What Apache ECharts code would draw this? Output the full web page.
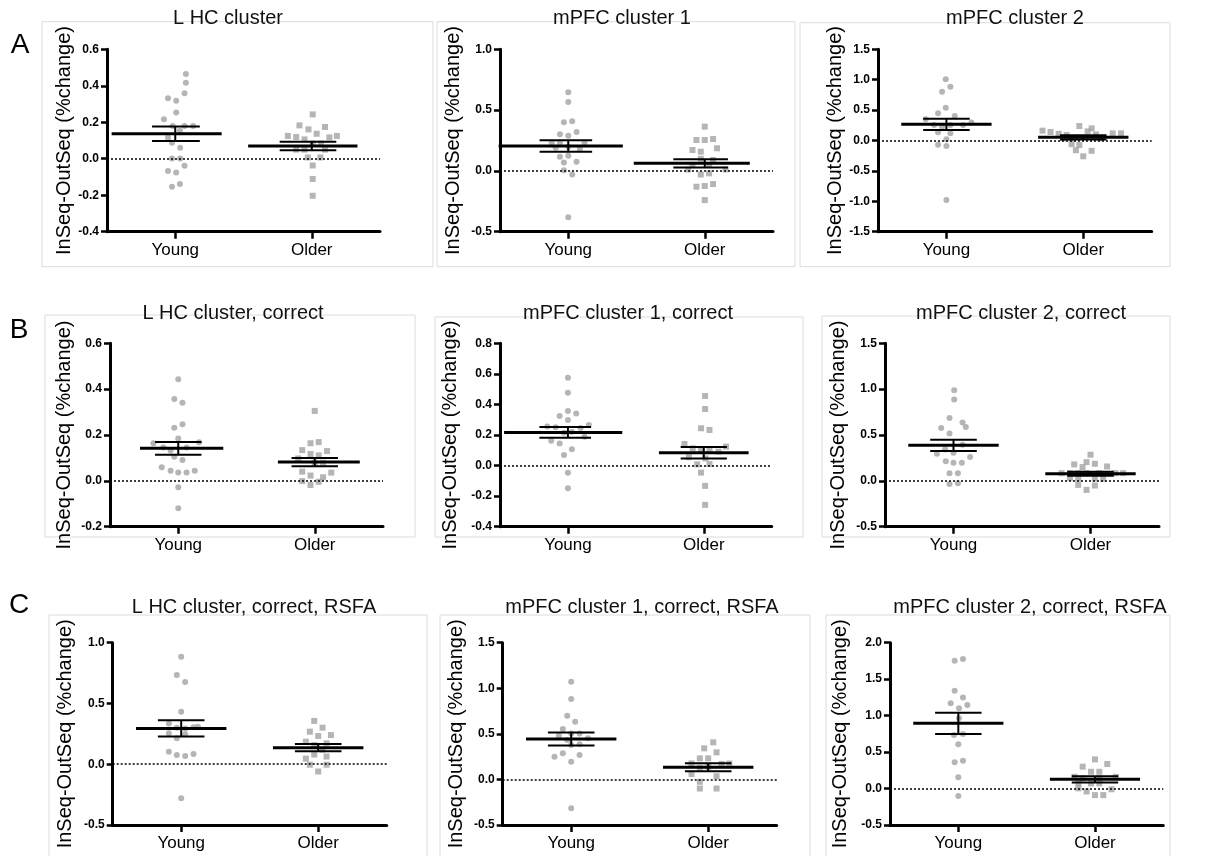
<!DOCTYPE html>
<html><head><meta charset="utf-8">
<script src="https://cdn.jsdelivr.net/npm/echarts@6/dist/echarts.min.js"></script>
<style>html,body{margin:0;padding:0;background:#fff}#c{width:1211px;height:856px}</style>
</head><body><div id="c"></div><script>
// ---------- DATA ----------
const categories = ['Young', 'Older'];
const panelTitles = ['L HC cluster', 'mPFC cluster 1', 'mPFC cluster 2',
  'L HC cluster, correct', 'mPFC cluster 1, correct', 'mPFC cluster 2, correct',
  'L HC cluster, correct, RSFA', 'mPFC cluster 1, correct, RSFA', 'mPFC cluster 2, correct, RSFA'];
const rowLetters = ['A', 'B', 'C'];
const yAxisName = 'InSeq-OutSeq (%change)';
const yMins = [-0.4, -0.5, -1.5, -0.2, -0.4, -0.5, -0.5, -0.5, -0.5];
const yMaxs = [0.6, 1.0, 1.5, 0.6, 0.8, 1.5, 1.0, 1.5, 2.0];
const ySteps = [0.2, 0.5, 0.5, 0.2, 0.2, 0.5, 0.5, 0.5, 0.5];
// group means and SEMs [Young, Older]
const groupMeans = [[0.137,0.070],[0.205,0.062],[0.266,0.052],[0.142,0.082],[0.217,0.084],[0.387,0.077],[0.295,0.136],[0.443,0.133],[0.894,0.126]];
const groupSems  = [[0.040,0.023],[0.048,0.034],[0.093,0.035],[0.028,0.018],[0.035,0.037],[0.062,0.022],[0.067,0.030],[0.072,0.044],[0.146,0.042]];

// individual points: [x (1=Young, 2=Older, with spread), value]
const aLhcYoung = [[1.078,0.465],[1.078,0.417],[1.068,0.359],[0.947,0.331],[1.007,0.318],[1.007,0.253],[0.917,0.216],[0.981,0.180],[1.068,0.180],[1.131,0.180],[1.034,0.154],[0.947,0.115],[0.976,0.087],[1.036,0.060],[0.976,0.002],[1.036,0.002],[1.068,-0.038],[0.947,-0.067],[1.007,-0.075],[1.034,-0.139],[0.976,-0.153]];
const aLhcOlder = [[2.007,0.243],[1.910,0.183],[1.976,0.161],[2.097,0.174],[1.825,0.125],[1.886,0.119],[1.947,0.106],[2.036,0.137],[2.129,0.117],[2.184,0.125],[2.007,0.084],[2.068,0.084],[1.886,0.050],[1.947,0.050],[2.097,0.050],[1.971,0.007],[2.063,0.007],[2.007,-0.037],[2.007,-0.111],[2.007,-0.203]];
const aMpfc1Young = [[1.0,0.646],[1.0,0.567],[0.968,0.400],[1.029,0.408],[0.939,0.301],[1.0,0.290],[1.061,0.320],[0.879,0.232],[0.939,0.232],[1.119,0.232],[0.908,0.191],[1.0,0.199],[1.085,0.180],[0.939,0.117],[1.0,0.125],[0.968,0.070],[1.061,0.076],[0.968,0.006],[1.029,-0.030],[1.0,-0.382]];
const aMpfc1Older = [[2.0,0.364],[1.939,0.254],[2.0,0.254],[2.061,0.262],[1.910,0.172],[1.971,0.158],[2.090,0.186],[1.971,0.100],[2.061,0.090],[1.910,0.050],[2.032,0.050],[1.879,0.012],[2.153,0.012],[1.971,-0.030],[2.032,-0.020],[1.939,-0.130],[2.0,-0.124],[2.061,-0.108],[2.0,-0.240]];
const aMpfc2Young = [[0.995,1.006],[0.968,0.803],[1.029,0.886],[0.995,0.540],[0.939,0.447],[1.061,0.403],[0.849,0.348],[1.183,0.297],[0.910,0.255],[0.968,0.227],[1.029,0.255],[1.122,0.255],[0.939,0.134],[1.029,0.118],[1.0,0.020],[0.939,-0.070],[1.0,-0.090],[1.0,-0.980]];
const aMpfc2Older = [[1.702,0.162],[1.761,0.140],[1.820,0.110],[1.878,0.090],[1.971,0.238],[2.061,0.200],[2.032,0.150],[2.093,0.100],[2.215,0.118],[2.276,0.118],[1.854,0.035],[1.915,0.035],[2.122,0.035],[1.915,-0.060],[1.971,-0.075],[1.946,-0.160],[2.061,-0.170],[2.0,-0.260]];
const bLhcYoung = [[1.0,0.443],[0.971,0.357],[1.031,0.341],[0.971,0.232],[1.031,0.247],[1.0,0.185],[0.818,0.164],[0.891,0.146],[0.944,0.132],[1.061,0.146],[1.153,0.168],[0.971,0.105],[1.031,0.091],[0.879,0.059],[0.944,0.044],[1.0,0.036],[1.061,0.036],[1.121,0.044],[1.0,-0.028],[1.0,-0.120]];
const bLhcOlder = [[2.0,0.305],[1.969,0.164],[2.029,0.169],[1.908,0.134],[1.969,0.117],[2.029,0.111],[2.090,0.130],[1.879,0.098],[2.0,0.079],[2.061,0.079],[1.908,0.040],[1.969,0.023],[2.061,0.016],[2.121,0.036],[1.908,-0.001],[2.029,-0.004],[1.969,-0.018]];
const bMpfc1Young = [[1.0,0.575],[1.0,0.477],[1.0,0.357],[0.939,0.324],[1.061,0.340],[1.0,0.298],[0.848,0.255],[0.909,0.250],[1.093,0.245],[1.154,0.265],[0.971,0.215],[1.029,0.222],[1.123,0.189],[0.877,0.163],[0.939,0.145],[1.029,0.106],[0.971,0.069],[1.0,-0.047],[1.0,-0.149]];
const bMpfc1Older = [[2.010,0.455],[2.010,0.370],[1.980,0.244],[2.042,0.233],[1.858,0.141],[1.919,0.113],[1.980,0.097],[2.042,0.106],[2.108,0.091],[2.164,0.124],[1.890,0.055],[2.012,0.047],[1.951,0.008],[2.042,0.010],[1.980,-0.046],[2.010,-0.133],[2.010,-0.257]];
const bMpfc2Young = [[1.005,0.989],[1.005,0.887],[0.971,0.686],[1.066,0.635],[0.910,0.577],[1.090,0.588],[0.971,0.515],[1.066,0.394],[0.879,0.296],[0.939,0.343],[1.0,0.307],[0.944,0.215],[1.0,0.197],[1.061,0.197],[1.121,0.259],[0.971,0.084],[1.032,0.084],[0.971,-0.033],[1.032,-0.026]];
const bMpfc2Older = [[2.0,0.285],[1.881,0.179],[1.942,0.150],[1.971,0.204],[2.032,0.186],[2.121,0.157],[1.789,0.084],[1.850,0.084],[1.910,0.084],[1.971,0.084],[2.063,0.084],[2.182,0.084],[2.238,0.084],[1.850,0.033],[1.910,0.025],[2.032,0.025],[2.092,0.020],[1.910,-0.044],[2.032,-0.051],[1.971,-0.099]];
const cLhcYoung = [[1.0,0.885],[0.968,0.734],[1.029,0.676],[1.0,0.432],[0.910,0.336],[0.968,0.300],[1.029,0.295],[1.090,0.304],[0.910,0.254],[0.968,0.213],[1.029,0.246],[1.122,0.309],[0.910,0.103],[0.968,0.076],[1.029,0.068],[1.090,0.084],[1.0,-0.280]];
const cLhcOlder = [[1.971,0.356],[2.032,0.301],[1.939,0.268],[2.0,0.232],[2.093,0.240],[1.910,0.186],[1.971,0.158],[2.061,0.172],[2.032,0.120],[1.910,0.046],[1.971,0.080],[2.061,0.063],[1.939,-0.004],[2.061,-0.004],[2.0,-0.060]];
const cMpfc1Young = [[1.0,1.072],[1.0,0.882],[0.971,0.699],[1.029,0.633],[0.939,0.553],[1.0,0.505],[0.910,0.480],[1.061,0.505],[0.971,0.432],[1.122,0.451],[1.061,0.385],[1.0,0.378],[0.878,0.250],[0.939,0.286],[1.061,0.268],[1.0,0.195],[1.0,-0.317]];
const cMpfc1Older = [[2.037,0.407],[1.971,0.341],[2.061,0.297],[1.939,0.231],[2.0,0.231],[1.878,0.176],[2.154,0.174],[2.098,0.170],[1.939,0.128],[2.0,0.139],[1.878,0.059],[2.061,0.035],[1.939,-0.026],[1.939,-0.100],[2.061,-0.100]];
const cMpfc2Young = [[0.973,1.753],[1.034,1.776],[0.973,1.342],[1.034,1.250],[0.944,1.168],[1.005,1.100],[1.066,1.145],[1.005,0.963],[0.968,0.734],[1.034,0.748],[1.0,0.606],[0.973,0.359],[1.034,0.382],[1.0,0.154],[1.0,-0.102]];
const cMpfc2Older = [[2.0,0.400],[1.910,0.300],[2.090,0.336],[1.971,0.230],[2.032,0.230],[1.850,0.160],[1.910,0.140],[2.032,0.140],[2.153,0.160],[1.879,0.070],[1.971,0.070],[2.032,0.070],[1.879,0.003],[1.939,-0.040],[2.121,-0.010],[2.0,-0.090],[2.061,-0.090]];

const youngSets = [aLhcYoung, aMpfc1Young, aMpfc2Young, bLhcYoung, bMpfc1Young, bMpfc2Young, cLhcYoung, cMpfc1Young, cMpfc2Young];
const olderSets = [aLhcOlder, aMpfc1Older, aMpfc2Older, bLhcOlder, bMpfc1Older, bMpfc2Older, cLhcOlder, cMpfc1Older, cMpfc2Older];

// ---------- LAYOUT / STYLE ----------
const FONT = "'Liberation Sans', Arial, Helvetica, sans-serif";
const grids = [
  {left:107, top:49.3, width:273, height:182.4},
  {left:500, top:49.3, width:273, height:182.4},
  {left:878, top:49.3, width:273.7, height:182.4},
  {left:110, top:343.3, width:273, height:183.4},
  {left:500, top:343.3, width:271.7, height:183.4},
  {left:885, top:343.3, width:274, height:183.4},
  {left:112.7, top:642.7, width:274, height:182.3},
  {left:502.7, top:642.7, width:274, height:182.3},
  {left:890, top:642.7, width:273.3, height:182.3}
];
const nameGaps = [32, 37, 33, 36, 40, 37, 37, 36, 40];
const titlePos = [[228,18],[622,18],[1015,18],[233,313],[628,313],[1021,313],[254,607],[642,607],[1030,607]];
const letterPos = [[20,45],[19,330],[19,605]];
const boxes = [
  [42,21.7,391,245],[437,21.7,358,245],[800,22.7,370,244],
  [45,315,370,222],[435,317,368,220],[822,316,348,221],
  [49,615,378,245],[440,615,370,245],[826,615,344,245]
];
const defSpan = {ml:-0.33, mr:0.33, cl:-0.17, cr:0.17};
const spans = [
  [{ml:-0.466,mr:0.34,cl:-0.17,cr:0.18},{ml:-0.466,mr:0.335,cl:-0.235,cr:0.18}],
  [{ml:-0.51,mr:0.40,cl:-0.21,cr:0.175},{ml:-0.52,mr:0.33,cl:-0.23,cr:0.17}],
  [defSpan, defSpan],
  [{ml:-0.28,mr:0.33,cl:-0.17,cr:0.17},{ml:-0.27,mr:0.33,cl:-0.17,cr:0.17}],
  [{ml:-0.47,mr:0.40,cl:-0.21,cr:0.17}, defSpan],
  [defSpan, defSpan],[defSpan, defSpan],[defSpan, defSpan],[defSpan, defSpan]
];
const POINT = '#a3a3a3';

// ---------- BUILD ----------
const chart = echarts.init(document.getElementById('c'), null, {renderer:'canvas'});
const option = {
  backgroundColor:'#fff', animation:false,
  grid:[], xAxis:[], yAxis:[], series:[], graphic:[]
};
boxes.forEach(b => option.graphic.push({type:'rect', shape:{x:b[0],y:b[1],width:b[2],height:b[3]}, style:{fill:'none', stroke:'#dcdcdc', lineWidth:1}, z:0}));
rowLetters.forEach((l,i) => option.graphic.push({type:'text', x:letterPos[i][0], y:letterPos[i][1], style:{text:l, font:'28px '+FONT, fill:'#000', textAlign:'center', textVerticalAlign:'middle'}, z:5}));
panelTitles.forEach((t,i) => option.graphic.push({type:'text', x:titlePos[i][0], y:titlePos[i][1], style:{text:t, font:'20px '+FONT, fill:'#111', textAlign:'center', textVerticalAlign:'middle'}, z:5}));

for (let p = 0; p < 9; p++) {
  option.grid.push(Object.assign({containLabel:false, outerBoundsMode:'none'}, grids[p]));
  option.xAxis.push({
    type:'value', gridIndex:p, min:0.5, max:2.5,
    axisLine:{show:true, onZero:false, lineStyle:{color:'#000', width:3}},
    axisTick:{show:true, customValues:[1,2], length:7, lineStyle:{color:'#000', width:2.5}},
    axisLabel:{show:true, customValues:[1,2], margin:10, fontSize:17, color:'#000', fontFamily:FONT,
      formatter: v => categories[Math.round(v)-1] || ''},
    splitLine:{show:false}
  });
  option.yAxis.push({
    type:'value', gridIndex:p, min:yMins[p], max:yMaxs[p], interval:ySteps[p],
    name:yAxisName, nameLocation:'middle', nameGap:nameGaps[p], nameRotate:90,
    nameTextStyle:{fontSize:20, color:'#000', fontFamily:FONT},
    axisLine:{show:true, onZero:false, lineStyle:{color:'#000', width:3}},
    axisTick:{show:true, length:6, lineStyle:{color:'#000', width:2.5}},
    axisLabel:{fontSize:12, fontWeight:'bold', color:'#000', margin:8, fontFamily:FONT,
      formatter: v => (Math.abs(v) < 1e-9 ? 0 : v).toFixed(1)},
    splitLine:{show:false}
  });
  option.series.push({
    type:'scatter', xAxisIndex:p, yAxisIndex:p, data:youngSets[p], symbol:'circle', symbolSize:6,
    itemStyle:{color:POINT}, z:2, silent:true,
    markLine:{silent:true, symbol:['none','none'], label:{show:false}, animation:false,
      lineStyle:{color:'#000', type:[2,2], width:1.5}, data:[{yAxis:0}]}
  });
  option.series.push({
    type:'scatter', xAxisIndex:p, yAxisIndex:p, data:olderSets[p], symbol:'rect', symbolSize:6,
    itemStyle:{color:POINT}, z:2, silent:true
  });
  const sp = spans[p];
  option.series.push({
    type:'custom', xAxisIndex:p, yAxisIndex:p, z:4, silent:true, clip:false,
    data: groupMeans[p].map((m,i) => [i+1, m, groupSems[p][i]]),
    renderItem: (params, api) => {
      const c = api.value(0), m = api.value(1), s = api.value(2);
      const k = sp[params.dataIndex];
      const a = api.coord([c+k.ml, m]), b = api.coord([c+k.mr, m]);
      const t1 = api.coord([c+k.cl, m+s]), t2 = api.coord([c+k.cr, m+s]);
      const b1 = api.coord([c+k.cl, m-s]), b2 = api.coord([c+k.cr, m-s]);
      const vt = api.coord([c, m+s]), vb = api.coord([c, m-s]);
      const st = {stroke:'#000', lineWidth:2};
      return {type:'group', children:[
        {type:'line', shape:{x1:vt[0],y1:vt[1],x2:vb[0],y2:vb[1]}, style:st},
        {type:'line', shape:{x1:t1[0],y1:t1[1],x2:t2[0],y2:t2[1]}, style:st},
        {type:'line', shape:{x1:b1[0],y1:b1[1],x2:b2[0],y2:b2[1]}, style:st},
        {type:'line', shape:{x1:a[0],y1:a[1],x2:b[0],y2:b[1]}, style:{stroke:'#000', lineWidth:3}}
      ]};
    }
  });
}
chart.setOption(option);
</script></body></html>
